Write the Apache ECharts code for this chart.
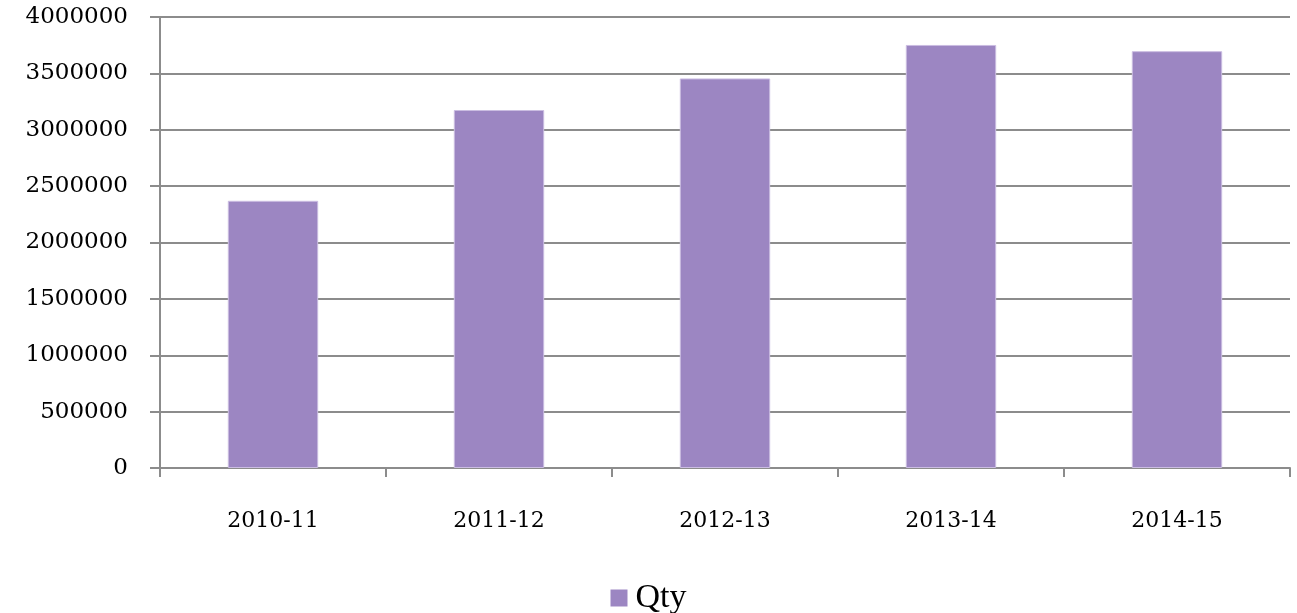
<!DOCTYPE html>
<head>
    <meta charset="utf-8">
    <title>Qty</title>
    <script type="text/javascript" src="https://cdn.jsdelivr.net/npm/echarts@6/dist/echarts.min.js"></script>
    <style>
        html, body { margin: 0; padding: 0; background: #fff; }
        #main { width: 1297px; height: 613px; }
    </style>
</head>

<body>
<div id="main"></div>

<script type="text/javascript">

    // data
    var years = ['2010-11', '2011-12', '2012-13', '2013-14', '2014-15'];
    var qty = [2370000, 3175000, 3455000, 3752000, 3697000];
    var seriesName = 'Qty';

    var gray = '#8c8c8c';
    var font = '"DejaVu Serif", "Liberation Serif", serif';

    var myChart = echarts.init(document.getElementById('main'));
    var option = {
        animation: false,
        grid: { left: 160, right: 7, top: 17, bottom: 145 },
        legend: {
            data: [seriesName],
            top: 576,
            left: 'center',
            icon: 'rect',
            itemWidth: 17,
            itemHeight: 17,
            itemStyle: { borderWidth: 0 },
            textStyle: { fontFamily: '"Liberation Serif", serif', fontSize: 34, color: '#000', padding: [0, 0, 0, 3] }
        },
        xAxis: [{
            type: 'category',
            data: years,
            axisLine: { lineStyle: { color: gray, width: 2 } },
            axisTick: { show: true, length: 9, lineStyle: { color: gray, width: 2 } },
            axisLabel: { margin: 42, color: '#000', fontFamily: font, fontSize: 22 }
        }],
        yAxis: [{
            type: 'value',
            min: 0,
            max: 4000000,
            interval: 500000,
            axisLine: { show: true, lineStyle: { color: gray, width: 2 } },
            axisTick: { show: true, length: 10, lineStyle: { color: gray, width: 2 } },
            splitLine: { lineStyle: { color: gray, width: 2 } },
            axisLabel: {
                margin: 32, color: '#000', fontFamily: font, fontSize: 23,
                formatter: function (v) { return String(v); }
            }
        }],
        series: [{
            name: seriesName,
            type: 'bar',
            data: qty,
            barWidth: '40%',
            itemStyle: { color: '#9c86c2', borderColor: '#cbbde2', borderWidth: 1 }
        }]
    };
    myChart.setOption(option);

</script>
</body>
